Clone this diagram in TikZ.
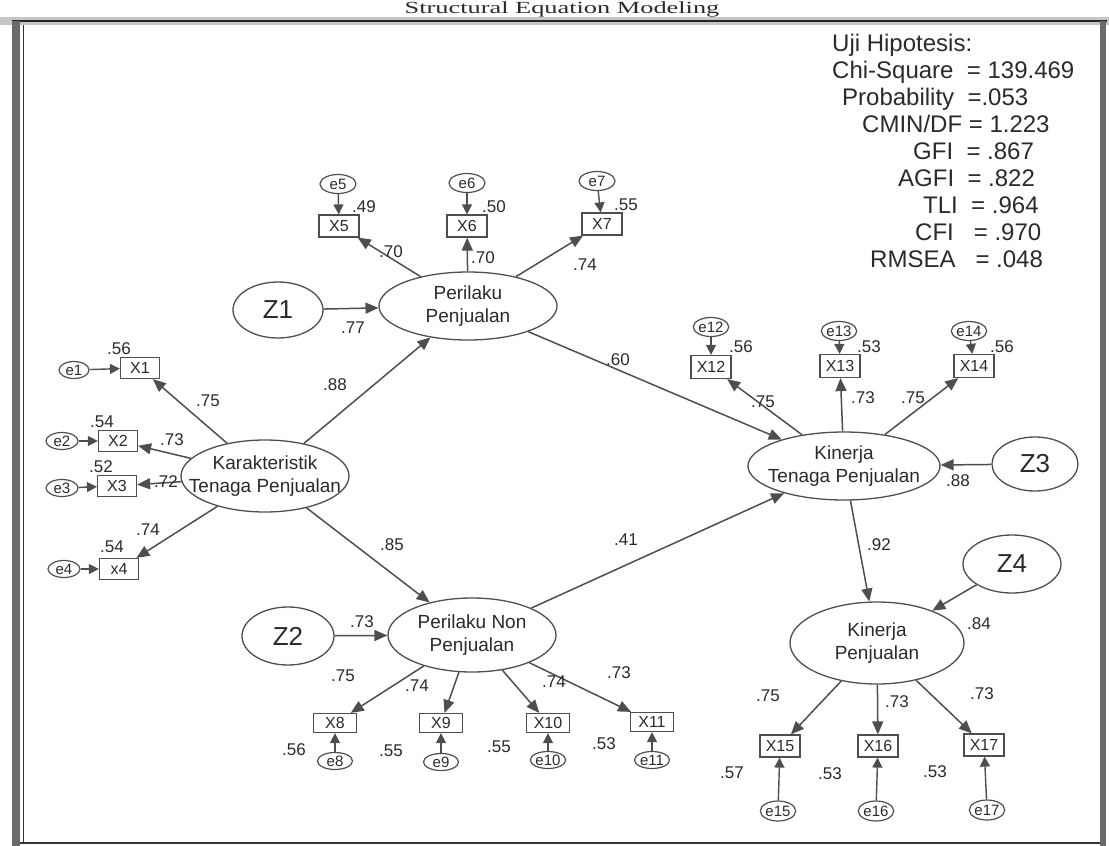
\documentclass[tikz,border=0pt]{standalone}
\usepackage{fontspec}
\setmainfont{Liberation Sans}
\newfontfamily\titlefont{Liberation Serif}
\usetikzlibrary{shapes.geometric,arrows.meta}
\definecolor{lc}{HTML}{4E4E4E}
\definecolor{tc}{HTML}{2A2A2A}
\definecolor{fr}{HTML}{6A6A6A}
\begin{document}
\begin{tikzpicture}[x=1pt,y=-1pt,
  lat/.style={ellipse, draw=lc, line width=1.3pt, inner sep=0pt},
  lattext/.style={align=center, font=\fontsize{19}{23}\selectfont, text=tc, inner sep=0pt},
  obs/.style={rectangle, draw=lc, line width=1.2pt, minimum width=40pt, minimum height=21pt, inner sep=0pt, font=\fontsize{16}{16}\selectfont, text=tc},
  err/.style={ellipse, draw=lc, line width=1.2pt, minimum width=34pt, minimum height=18pt, inner sep=0pt, font=\fontsize{15}{15}\selectfont, text=tc},
  zeta/.style={ellipse, draw=lc, line width=1.3pt, inner sep=0pt, font=\fontsize{26}{26}\selectfont, text=tc},
  arr/.style={draw=lc, line width=1.5pt, -{Triangle[length=13pt,width=11pt]}},
  earr/.style={draw=lc, line width=1.4pt, -{Triangle[length=10pt,width=10pt]}},
  lbl/.style={font=\fontsize{17}{17}\selectfont, text=tc, inner sep=0pt},
  stat/.style={font=\fontsize{24}{24}\selectfont, text=tc, inner sep=0pt, anchor=base west},
]
\useasboundingbox (0,0) rectangle (1109,846);
\clip (0,0) rectangle (1109,846);

% frame
\fill[gray!45] (0,17) rectangle (1109,25);
\draw[gray!30!black, line width=1.5pt] (12,21) -- (1107,21);
\fill[fr] (12,21) rectangle (20,846);
\draw[gray!40!black, line width=1pt] (23,25) -- (23,843);
\fill[fr] (1100,21) rectangle (1106,846);
\draw[gray!40!black, line width=1.2pt] (20,843) -- (1100,843);

% title
\node[font=\titlefont\fontsize{17}{17}\selectfont, anchor=base, text=tc, inner sep=0pt, xscale=1.55] (title) at (562,13) {Structural Equation Modeling};

% statistics
\node[stat] (s1) at (832,51) {Uji Hipotesis:};
\node[stat] (s2) at (832,78) {Chi-Square\ \ = 139.469};
\node[stat] (s3) at (842,105) {Probability\ \ =.053};
\node[stat] (s4) at (862,132) {CMIN/DF = 1.223};
\node[stat] (s5) at (913,159) {GFI\ \ = .867};
\node[stat] (s6) at (898,186) {AGFI\ \ = .822};
\node[stat] (s7) at (923,213) {TLI\ \ = .964};
\node[stat] (s8) at (915,240) {CFI\ \ \ = .970};
\node[stat] (s9) at (870,267) {RMSEA\ \ \ = .048};

% latent variables
\node[lat, minimum width=168pt, minimum height=72pt] (kar) at (265,476) {};
\node[lattext] (kart) at (kar) {Karakteristik\\Tenaga Penjualan};
\node[lat, minimum width=178pt, minimum height=68pt] (per) at (468,306) {};
\node[lattext] (pert) at (per) {Perilaku\\Penjualan};
\node[lat, minimum width=168pt, minimum height=74pt] (pnp) at (472,635) {};
\node[lattext] (pnpt) at (pnp) {Perilaku Non\\Penjualan};
\node[lat, minimum width=192pt, minimum height=68pt] (ktp) at (844,466) {};
\node[lattext] (ktpt) at (ktp) {Kinerja\\Tenaga Penjualan};
\node[lat, minimum width=174pt, minimum height=82pt] (kp) at (877,643) {};
\node[lattext] (kpt) at (kp) {Kinerja\\Penjualan};

% disturbances
\node[zeta, minimum width=90pt, minimum height=56pt] (z1) at (278,310) {Z1};
\node[zeta, minimum width=92pt, minimum height=58pt] (z2) at (288,636) {Z2};
\node[zeta, minimum width=86pt, minimum height=54pt] (z3) at (1035,464) {Z3};
\node[zeta, minimum width=98pt, minimum height=58pt] (z4) at (1012,564) {Z4};

% indicators
\node[obs, minimum width=39pt] (x1) at (140,368) {X1};
\node[obs, minimum width=39pt] (x2) at (118,441) {X2};
\node[obs, minimum width=39pt] (x3) at (117,486) {X3};
\node[obs, minimum width=39pt] (x4) at (119,569) {x4};
\node[obs, minimum height=22pt] (x5) at (339,226) {X5};
\node[obs, minimum height=22pt] (x6) at (467,226) {X6};
\node[obs, minimum height=22pt] (x7) at (602,224) {X7};
\node[obs, minimum width=43pt, minimum height=19pt] (x8) at (335,723) {X8};
\node[obs, minimum width=43pt, minimum height=19pt] (x9) at (441,723) {X9};
\node[obs, minimum width=43pt, minimum height=19pt] (x10) at (548,723) {X10};
\node[obs, minimum width=43pt, minimum height=19pt] (x11) at (652,722) {X11};
\node[obs, minimum height=23pt] (x12) at (711,367) {X12};
\node[obs, minimum height=23pt] (x13) at (840,366) {X13};
\node[obs, minimum height=23pt] (x14) at (974,366) {X14};
\node[obs, minimum height=22pt] (x15) at (780,746) {X15};
\node[obs, minimum height=22pt] (x16) at (878,746) {X16};
\node[obs, minimum height=22pt] (x17) at (984,745) {X17};

% errors
\node[err, minimum width=30pt, minimum height=17pt] (e1) at (74,370) {e1};
\node[err, minimum width=32pt, minimum height=17pt] (e2) at (62,441) {e2};
\node[err, minimum width=32pt, minimum height=17pt] (e3) at (62,488) {e3};
\node[err, minimum width=32pt, minimum height=17pt] (e4) at (64,569) {e4};
\node[err, minimum width=36pt, minimum height=19pt] (e5) at (338,184) {e5};
\node[err, minimum width=36pt, minimum height=19pt] (e6) at (467,183) {e6};
\node[err, minimum width=36pt, minimum height=19pt] (e7) at (597,181) {e7};
\node[err, minimum width=35pt, minimum height=17pt] (e8) at (335,761) {e8};
\node[err, minimum width=35pt, minimum height=17pt] (e9) at (441,762) {e9};
\node[err, minimum width=35pt, minimum height=17pt] (e10) at (548,760) {e10};
\node[err, minimum width=35pt, minimum height=17pt] (e11) at (652,760) {e11};
\node[err, minimum height=19pt] (e12) at (711,327) {e12};
\node[err, minimum height=19pt] (e13) at (839,331) {e13};
\node[err, minimum height=19pt] (e14) at (969,331) {e14};
\node[err, minimum width=35pt, minimum height=20pt] (e15) at (778,811) {e15};
\node[err, minimum width=35pt, minimum height=20pt] (e16) at (876,811) {e16};
\node[err, minimum width=35pt, minimum height=20pt] (e17) at (987,810) {e17};

% structural paths
\draw[arr] (kar) -- (per);
\draw[arr] (kar) -- (pnp);
\draw[arr] (per) -- (ktp);
\draw[arr] (pnp) -- (ktp);
\draw[arr] (ktp) -- (kp);
\draw[arr] (z1) -- (per);
\draw[arr] (z2) -- (pnp);
\draw[arr] (z3) -- (ktp);
\draw[arr] (z4) -- (kp);

% loadings
\foreach \i in {x1,x2,x3,x4} \draw[arr] (kar) -- (\i);
\foreach \i in {x5,x6,x7} \draw[arr] (per) -- (\i);
\foreach \i in {x8,x9,x10,x11} \draw[arr] (pnp) -- (\i);
\foreach \i in {x12,x13,x14} \draw[arr] (ktp) -- (\i);
\foreach \i in {x15,x16,x17} \draw[arr] (kp) -- (\i);

% error arrows
\draw[earr] (e1) -- (x1);
\draw[earr] (e2) -- (x2);
\draw[earr] (e3) -- (x3);
\draw[earr] (e4) -- (x4);
\draw[earr] (e5) -- (x5);
\draw[earr] (e6) -- (x6);
\draw[earr] (e7) -- (x7);
\draw[earr] (e8) -- (x8);
\draw[earr] (e9) -- (x9);
\draw[earr] (e10) -- (x10);
\draw[earr] (e11) -- (x11);
\draw[earr] (e12) -- (x12);
\draw[earr] (e13) -- (x13);
\draw[earr] (e14) -- (x14);
\draw[earr] (e15) -- (x15);
\draw[earr] (e16) -- (x16);
\draw[earr] (e17) -- (x17);

% labels
\node[lbl] (r1) at (119,349) {.56};
\node[lbl] (r2) at (102,422) {.54};
\node[lbl] (r3) at (101,467) {.52};
\node[lbl] (r4) at (112,547) {.54};
\node[lbl] (l1) at (208,401) {.75};
\node[lbl] (l2) at (172,440) {.73};
\node[lbl] (l3) at (166,482) {.72};
\node[lbl] (l4) at (148,530) {.74};
\node[lbl] (g1) at (335,385) {.88};
\node[lbl] (g2) at (392,545) {.85};
\node[lbl] (g3) at (353,328) {.77};
\node[lbl] (r5) at (364,207) {.49};
\node[lbl] (r6) at (494,207) {.50};
\node[lbl] (r7) at (626,205) {.55};
\node[lbl] (l5) at (391,252) {.70};
\node[lbl] (l6) at (483,258) {.70};
\node[lbl] (l7) at (585,265) {.74};
\node[lbl] (g4) at (618,360) {.60};
\node[lbl] (g5) at (626,540) {.41};
\node[lbl] (g6) at (362,622) {.73};
\node[lbl] (l8) at (343,676) {.75};
\node[lbl] (l9) at (417,686) {.74};
\node[lbl] (l10) at (554,682) {.74};
\node[lbl] (l11) at (619,673) {.73};
\node[lbl] (r8) at (294,750) {.56};
\node[lbl] (r9) at (391,751) {.55};
\node[lbl] (r10) at (499,747) {.55};
\node[lbl] (r11) at (604,744) {.53};
\node[lbl] (r12) at (741,347) {.56};
\node[lbl] (r13) at (869,347) {.53};
\node[lbl] (r14) at (1002,347) {.56};
\node[lbl] (l12) at (763,402) {.75};
\node[lbl] (l13) at (863,398) {.73};
\node[lbl] (l14) at (913,398) {.75};
\node[lbl] (g7) at (958,481) {.88};
\node[lbl] (g8) at (879,545) {.92};
\node[lbl] (g9) at (979,624) {.84};
\node[lbl] (l15) at (768,696) {.75};
\node[lbl] (l16) at (897,702) {.73};
\node[lbl] (l17) at (982,694) {.73};
\node[lbl] (r15) at (732,773) {.57};
\node[lbl] (r16) at (830,774) {.53};
\node[lbl] (r17) at (935,772) {.53};
\end{tikzpicture}
\end{document}
